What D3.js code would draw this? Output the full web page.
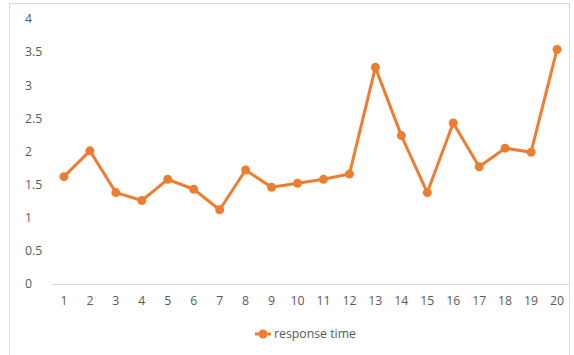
<!DOCTYPE html>
<html><head><meta charset="utf-8">
<script src="https://cdn.jsdelivr.net/npm/d3@7"></script>
<style>html,body{margin:0;padding:0;background:#fff;}</style>
</head><body>
<svg id="c" width="574" height="355"></svg>
<script>
const categories = ["1","2","3","4","5","6","7","8","9","10","11","12","13","14","15","16","17","18","19","20"];
const responseTime = [1.62,2.01,1.38,1.26,1.58,1.43,1.12,1.72,1.46,1.52,1.58,1.66,3.27,2.24,1.38,2.43,1.77,2.05,1.99,3.54];
const yTicks = [0,0.5,1,1.5,2,2.5,3,3.5,4];
const seriesName = "response time";

const svg = d3.select("#c");
const font = "'Open Sans', 'Liberation Sans', sans-serif";
const col = "#ED7D31";
const txt = "#595959";

svg.append("rect").attr("x",9.5).attr("y",3.5).attr("width",560).attr("height",360)
  .attr("fill","#fff").attr("stroke","#d9d9d9");

const x = d3.scaleBand().domain(categories).range([51,570]);
const y = d3.scaleLinear().domain([0,4]).range([284,19]);

svg.append("line").attr("x1",51).attr("x2",570).attr("y1",y(0)+0.5).attr("y2",y(0)+0.5)
  .attr("stroke","#d9d9d9").attr("stroke-width",1);

svg.append("g").selectAll("text").data(yTicks).join("text")
  .attr("x",25).attr("y",d=>y(d)).attr("dy","0.35em")
  .attr("font-family",font).attr("font-size",12.3).attr("fill",txt)
  .text(d=>d3.format("")(d));

svg.append("g").selectAll("text").data(categories).join("text")
  .attr("x",d=>x(d)+x.bandwidth()/2).attr("y",301).attr("dy","0.35em")
  .attr("text-anchor","middle")
  .attr("font-family",font).attr("font-size",12.3).attr("fill",txt)
  .text(d=>d);

const pts = categories.map((c,i)=>[x(c)+x.bandwidth()/2, y(responseTime[i])]);
svg.append("path").attr("d",d3.line()(pts)).attr("fill","none")
  .attr("stroke",col).attr("stroke-width",3).attr("stroke-linejoin","round").attr("stroke-linecap","round");
svg.append("g").selectAll("circle").data(pts).join("circle")
  .attr("cx",d=>d[0]).attr("cy",d=>d[1]).attr("r",4.5).attr("fill",col);

const lg = svg.append("g");
lg.append("line").attr("x1",255).attr("x2",271).attr("y1",334).attr("y2",334)
  .attr("stroke",col).attr("stroke-width",3);
lg.append("circle").attr("cx",263).attr("cy",334).attr("r",4.5).attr("fill",col);
lg.append("text").attr("x",274).attr("y",334).attr("dy","0.35em")
  .attr("font-family",font).attr("font-size",12.3).attr("fill",txt).text(seriesName);
</script>
</body></html>
